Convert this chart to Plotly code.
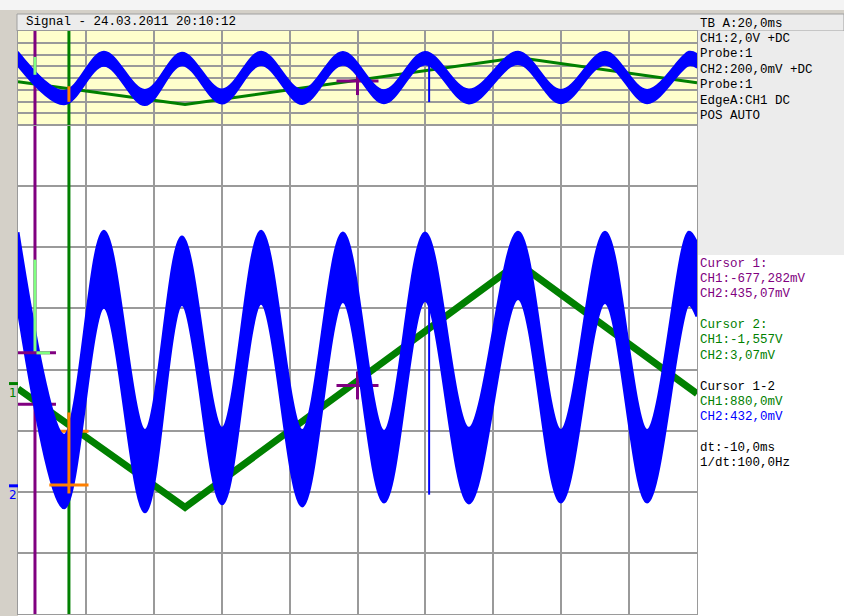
import plotly.graph_objects as go

# ---- canvas geometry (pixels) ----
W, H = 844, 616
PLOT_L, PLOT_R = 18, 697
TOP_T, TOP_B = 31, 125
MAIN_T, MAIN_B = 125, 614
PANEL_SPLIT = 255

# ---- scope settings ----
TB_MS_PER_DIV = 20.0
CH1_V_PER_DIV = 2.0
CH2_MV_PER_DIV = 200.0
N_XDIV, N_YDIV = 10, 8
CH1_GND_DIV = 3.77
CH2_GND_DIV = 2.097

# ---- CH1 (green): triangle wave vertices ----
ch1_t_ms = [0.0, 49.2, 147.3, 200.0]
ch1_v = [-0.17, -4.05, 3.94, -0.33]

# ---- CH2 (blue): upper / lower edge of the noisy trace at each peak and trough ----
ch2_t_ms = [0.0, 13.6, 25.3, 37.4, 48.3, 60.1, 71.6, 83.7, 95.7, 107.8,
            119.9, 132.8, 147.3, 159.9, 172.9, 185.3, 197.6, 200.0]
ch2_hi_mv = [830, 165, 833, 181, 814, 188, 833, 181, 827, 178,
             827, 188, 830, 181, 830, 181, 830, 792]
ch2_lo_mv = [580, -72, 584, -85, 593, -59, 597, -66, 603, -53,
             606, -56, 613, -53, 600, -53, 593, 554]

# single glitch on CH2
glitch_t_ms = [121.1, 121.1]
glitch_mv = [602, -29]

# trigger point (EdgeA on CH1)
trig_t_ms = [100.0]
trig_v = [-0.06]

# cursors
cursor_t_ms = [5.0, 15.0]
cursor_ch1_v = [-0.677282, -1.557]
cursor_ch2_mv = [435.07, 3.07]
delta_ch1_mv = 880.0
delta_ch2_mv = 432.0

# highlighted CH2 sample spans at the cursors (mV)
c1_span_mv = [435.07, 740.0]
c2_span_mv = [-25.0, 240.0]

# ---- colours ----
BLUE = "#0000ff"
GREEN = "#008000"
PURPLE = "#800080"
ORANGE = "#ff8000"
LIGHTGREEN = "#80ff80"
GRID = "#9a9a9a"
MONO = "Liberation Mono, Courier New, monospace"


def px_x(x):
    return x / W


def px_y(y):
    return 1 - y / H


def fmt(v, nd):
    return f"{v:.{nd}f}".replace(".", ",")


x_range = [0, N_XDIV * TB_MS_PER_DIV]
ch1_range = [-CH1_GND_DIV * CH1_V_PER_DIV, (N_YDIV - CH1_GND_DIV) * CH1_V_PER_DIV]
ch2_range = [-CH2_GND_DIV * CH2_MV_PER_DIV, (N_YDIV - CH2_GND_DIV) * CH2_MV_PER_DIV]
ms_per_px = x_range[1] / (PLOT_R - PLOT_L)

fig = go.Figure()

# two views of the same record: main (x, y/y2) and overview (x2, y3/y4)
views = [
    dict(xa="x", ya1="y", ya2="y2", g_w=7, b_w=3, main=True),
    dict(xa="x2", ya1="y3", ya2="y4", g_w=3, b_w=1.5, main=False),
]

for v in views:
    fig.add_trace(go.Scatter(x=ch1_t_ms, y=ch1_v, mode="lines",
                             line=dict(color=GREEN, width=v["g_w"]),
                             xaxis=v["xa"], yaxis=v["ya1"], hoverinfo="skip"))
    fig.add_trace(go.Scatter(x=ch2_t_ms, y=ch2_hi_mv, mode="lines",
                             line=dict(color=BLUE, width=v["b_w"], shape="spline"),
                             xaxis=v["xa"], yaxis=v["ya2"], hoverinfo="skip"))
    fig.add_trace(go.Scatter(x=ch2_t_ms, y=ch2_lo_mv, mode="lines",
                             line=dict(color=BLUE, width=v["b_w"], shape="spline"),
                             fill="tonexty", fillcolor=BLUE,
                             xaxis=v["xa"], yaxis=v["ya2"], hoverinfo="skip"))
    fig.add_trace(go.Scatter(x=glitch_t_ms, y=glitch_mv, mode="lines",
                             line=dict(color=BLUE, width=2),
                             xaxis=v["xa"], yaxis=v["ya2"], hoverinfo="skip"))
    # cursor lines
    for t, col in zip(cursor_t_ms, [PURPLE, GREEN]):
        fig.add_trace(go.Scatter(x=[t, t], y=ch1_range, mode="lines",
                                 line=dict(color=col, width=3),
                                 xaxis=v["xa"], yaxis=v["ya1"], hoverinfo="skip"))
    # trigger cross
    for sym, size in [("line-ew", 30), ("line-ns", 20)]:
        fig.add_trace(go.Scatter(x=trig_t_ms, y=trig_v, mode="markers",
                                 marker=dict(symbol=sym, size=size,
                                             line=dict(color=PURPLE, width=3)),
                                 xaxis=v["xa"], yaxis=v["ya1"], hoverinfo="skip"))
    # highlighted spans at the cursors
    fig.add_trace(go.Scatter(x=[cursor_t_ms[0]] * 2, y=c1_span_mv, mode="lines",
                             line=dict(color=LIGHTGREEN, width=3),
                             xaxis=v["xa"], yaxis=v["ya2"], hoverinfo="skip"))
    fig.add_trace(go.Scatter(x=[cursor_t_ms[1]] * 2, y=c2_span_mv, mode="lines",
                             line=dict(color=ORANGE, width=3),
                             xaxis=v["xa"], yaxis=v["ya2"], hoverinfo="skip"))

    if v["main"]:
        arm = 15 * ms_per_px
        # cursor 1 cross ticks: purple with light-green right half
        for yv, ya in [(cursor_ch1_v[0], "y"), (cursor_ch2_mv[0], "y2")]:
            fig.add_trace(go.Scatter(x=[cursor_t_ms[0]], y=[yv], mode="markers",
                                     marker=dict(symbol="line-ew", size=30,
                                                 line=dict(color=PURPLE, width=3)),
                                     xaxis="x", yaxis=ya, hoverinfo="skip"))
            fig.add_trace(go.Scatter(x=[cursor_t_ms[0] + 1.5 * ms_per_px, cursor_t_ms[0] + arm],
                                     y=[yv, yv], mode="lines",
                                     line=dict(color=LIGHTGREEN, width=3),
                                     xaxis="x", yaxis=ya, hoverinfo="skip"))
        # cursor 2 cross ticks: orange
        for yv, ya in [(cursor_ch1_v[1], "y"), (cursor_ch2_mv[1], "y2")]:
            fig.add_trace(go.Scatter(x=[cursor_t_ms[1]], y=[yv], mode="markers",
                                     marker=dict(symbol="line-ew", size=28,
                                                 line=dict(color=ORANGE, width=3)),
                                     xaxis="x", yaxis=ya, hoverinfo="skip"))

# ---- backgrounds ----
shapes = []


def rect(x0, y0, x1, y1, fill, line=None):
    shapes.append(dict(type="rect", xref="paper", yref="paper",
                       x0=px_x(x0), x1=px_x(x1), y0=px_y(y1), y1=px_y(y0),
                       fillcolor=fill, layer="below",
                       line=dict(width=1 if line else 0, color=line or fill)))


rect(0, 10, W, H, "#d4d0c8")
rect(17, 14, W, TOP_T, "#ececec", "#a0a0a0")
rect(PLOT_R, TOP_T, W, PANEL_SPLIT, "#ececec")
rect(PLOT_R, PANEL_SPLIT, W, H, "#ffffff")
rect(PLOT_L, TOP_T, PLOT_R, TOP_B, "#ffffcc")
rect(PLOT_L, MAIN_T, PLOT_R, H, "#ffffff")

# ground markers on the left edge
for ya, col in [("y", GREEN), ("y2", BLUE)]:
    shapes.append(dict(type="line", xref="paper", yref=ya,
                       x0=px_x(9), x1=px_x(PLOT_L), y0=0, y1=0,
                       line=dict(color=col, width=3)))

annotations = []
for ya, col, lab in [("y", GREEN, "1"), ("y2", BLUE, "2")]:
    annotations.append(dict(xref="paper", yref=ya, x=px_x(12.5), y=0, yshift=-9,
                            xanchor="center", text=lab, showarrow=False,
                            font=dict(family="DejaVu Sans, Arial", size=12, color=col)))


def text(x, y, s, col="#000000"):
    annotations.append(dict(xref="paper", yref="paper", x=px_x(x), y=px_y(y),
                            xanchor="left", yanchor="middle", text=s, showarrow=False,
                            font=dict(family=MONO, size=12.5, color=col)))


text(24, 22.5, "Signal - 24.03.2011 20:10:12")

settings = [
    f"TB A:{fmt(TB_MS_PER_DIV, 1)}ms",
    f"CH1:{fmt(CH1_V_PER_DIV, 1)}V +DC",
    "Probe:1",
    f"CH2:{fmt(CH2_MV_PER_DIV, 1)}mV +DC",
    "Probe:1",
    "EdgeA:CH1 DC",
    "POS AUTO",
]
for i, s in enumerate(settings):
    text(698, 23.5 + i * 15.4, s)

dt_ms = cursor_t_ms[0] - cursor_t_ms[1]
readout = [
    (264, "Cursor 1:", PURPLE),
    (279, f"CH1:{fmt(cursor_ch1_v[0] * 1000, 3)}mV", PURPLE),
    (294, f"CH2:{fmt(cursor_ch2_mv[0], 2)}mV", PURPLE),
    (325, "Cursor 2:", GREEN),
    (340, f"CH1:{fmt(cursor_ch1_v[1], 3)}V", GREEN),
    (356, f"CH2:{fmt(cursor_ch2_mv[1], 2)}mV", GREEN),
    (387, "Cursor 1-2", "#000000"),
    (402, f"CH1:{fmt(delta_ch1_mv, 1)}mV", GREEN),
    (417, f"CH2:{fmt(delta_ch2_mv, 1)}mV", BLUE),
    (448, f"dt:{fmt(dt_ms, 1)}ms", "#000000"),
    (463, f"1/dt:{fmt(1000 / abs(dt_ms), 1)}Hz", "#000000"),
]
for y, s, col in readout:
    text(698, y, s, col)

xdom = [px_x(PLOT_L), px_x(PLOT_R)]
main_dom = [px_y(MAIN_B), px_y(MAIN_T)]
top_dom = [px_y(TOP_B), px_y(TOP_T)]

grid_x = dict(range=x_range, tick0=0, dtick=TB_MS_PER_DIV, showgrid=True,
              gridcolor=GRID, gridwidth=2, showticklabels=False, ticks="",
              zeroline=False, showline=True, mirror=True, linecolor=GRID,
              linewidth=1, domain=xdom, fixedrange=True)
grid_y = dict(range=ch1_range, tick0=ch1_range[0], dtick=CH1_V_PER_DIV,
              showgrid=True, gridcolor=GRID, gridwidth=2, showticklabels=False,
              ticks="", zeroline=False, showline=True, mirror=True,
              linecolor=GRID, linewidth=1, fixedrange=True)
hidden = dict(range=ch2_range, visible=False, showgrid=False, zeroline=False,
              fixedrange=True)

fig.update_layout(
    width=W, height=H,
    margin=dict(l=0, r=0, t=0, b=0, pad=0),
    paper_bgcolor="#f4f4f4",
    plot_bgcolor="rgba(0,0,0,0)",
    showlegend=False,
    xaxis=dict(grid_x, anchor="y"),
    yaxis=dict(grid_y, domain=main_dom, anchor="x"),
    yaxis2=dict(hidden, overlaying="y", anchor="x"),
    xaxis2=dict(grid_x, anchor="y3"),
    yaxis3=dict(grid_y, domain=top_dom, anchor="x2"),
    yaxis4=dict(hidden, overlaying="y3", anchor="x2"),
    shapes=shapes,
    annotations=annotations,
)

fig.write_html("out.html", config={"displayModeBar": False})
